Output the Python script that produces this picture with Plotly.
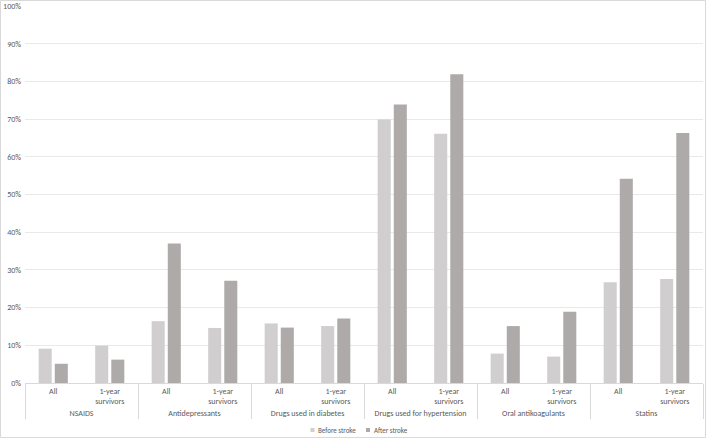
import plotly.graph_objects as go

groups = ["NSAIDS", "Antidepressants", "Drugs used in diabetes",
          "Drugs used for hypertension", "Oral antikoagulants", "Statins"]
subcats = ["All", "1-year<br>survivors"]
before_stroke = [0.091, 0.099, 0.164, 0.146, 0.158, 0.151, 0.699, 0.661, 0.078, 0.070, 0.267, 0.276]
after_stroke = [0.051, 0.062, 0.370, 0.271, 0.147, 0.171, 0.739, 0.819, 0.151, 0.189, 0.542, 0.663]
series_names = ["Before stroke", "After stroke"]
series_colors = ["#d0cece", "#aeaaaa"]

outer = [g for g in groups for _ in subcats]
inner = [s for _ in groups for s in subcats]

FONT = "Calibri, Carlito, Lato, sans-serif"
TXT = "#595959"

# plot-area geometry in pixels (for placing the legend and the chart frame)
L, R, T, B, W, H = 25, 4, 6, 56, 707, 439
PW, PH = W - L - R, H - T - B


def px_x(px):
    return (px - L) / PW


def px_y(py):
    return (H - B - py) / PH


fig = go.Figure()
for name, vals, col in zip(series_names, [before_stroke, after_stroke], series_colors):
    fig.add_trace(go.Bar(x=[outer, inner], y=vals, name=name, showlegend=False,
                         marker=dict(color=col, line=dict(width=0))))

shapes = [dict(type="rect", xref="paper", yref="paper",
               x0=px_x(0.5), x1=px_x(W - 1.5), y0=px_y(H - 1.5), y1=px_y(0.5),
               line=dict(color="#d9d9d9", width=1), fillcolor="rgba(0,0,0,0)")]
annotations = []
legend_x = [310.5, 366]
for name, col, lx in zip(series_names, series_colors, legend_x):
    shapes.append(dict(type="rect", xref="paper", yref="paper",
                       x0=px_x(lx), x1=px_x(lx + 4), y0=px_y(432), y1=px_y(428),
                       line=dict(width=0), fillcolor=col))
    annotations.append(dict(text=name, xref="paper", yref="paper",
                            x=px_x(lx + 5.5), y=px_y(430), xanchor="left", yanchor="middle",
                            showarrow=False, font=dict(size=7, color=TXT)))

fig.update_layout(
    width=W, height=H,
    margin=dict(l=L, r=R, t=T, b=B, autoexpand=False),
    paper_bgcolor="white", plot_bgcolor="white",
    font=dict(family=FONT, color=TXT, size=8),
    barmode="group", bargap=0.43, bargroupgap=0.19,
    showlegend=False,
    xaxis=dict(type="multicategory", showline=True, linecolor="#d9d9d9", linewidth=1,
               showdividers=True, dividercolor="#d9d9d9", dividerwidth=1,
               tickfont=dict(size=8, color=TXT), ticks="", showgrid=False,
               automargin=False),
    yaxis=dict(range=[0, 1], dtick=0.1, tickformat=".0%", showgrid=True,
               gridcolor="#e9e9e9", gridwidth=1, zeroline=False, showline=False,
               tickfont=dict(size=8, color=TXT), ticklabelstandoff=3,
               automargin=False),
    shapes=shapes,
    annotations=annotations,
)

fig.write_html("out.html", config={"displayModeBar": False},
               post_script="document.body.style.margin='0';")
